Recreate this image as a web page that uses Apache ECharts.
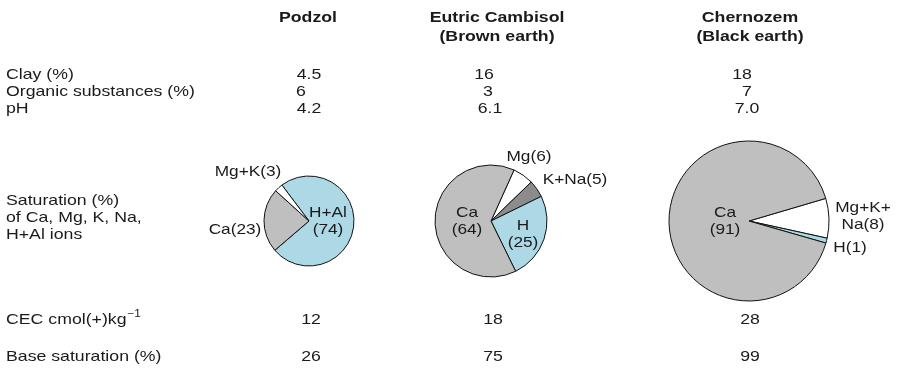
<!DOCTYPE html>
<html><head><meta charset="utf-8">
<script src="https://cdn.jsdelivr.net/npm/echarts@6/dist/echarts.min.js"></script>
<style>html,body{margin:0;padding:0;background:#fff}#c{width:898px;height:369px}</style>
</head><body><div id="c"></div>
<script>
// ---- data ----
var soils = ['Podzol', 'Eutric Cambisol\n(Brown earth)', 'Chernozem\n(Black earth)'];
var rowLabels = ['Clay (%)', 'Organic substances (%)', 'pH'];
var clay = ['4.5', '16', '18'];
var organic = ['6', '3', '7'];
var ph = ['4.2', '6.1', '7.0'];
var cec = ['12', '18', '28'];
var baseSat = ['26', '75', '99'];
var satLabel = 'Saturation (%)\nof Ca, Mg, K, Na,\nH+Al ions';
// saturation pies (clockwise order)
var podzolIons = ['H+Al', 'Ca', 'Mg+K'];
var podzolVals = [74, 23, 3];
var cambisolIons = ['Mg', 'K+Na', 'H', 'Ca'];
var cambisolVals = [6, 5, 25, 64];
var chernozemIons = ['Mg+K+Na', 'H', 'Ca'];
var chernozemVals = [8, 1, 91];

// ---- layout ----
var FONT = '"Liberation Sans", Arial, sans-serif';
var FS = 15, SX = 1.18;
var colorMap = {'H+Al': '#add8e6', 'H': '#add8e6', 'Ca': '#bfbfc0', 'Mg+K': '#ffffff', 'Mg': '#ffffff', 'K+Na': '#8c8c8c', 'Mg+K+Na': '#ffffff'};
var pies = [
  {ions: podzolIons, vals: podzolVals, center: [309, 221], r: 45, start: 127},
  {ions: cambisolIons, vals: cambisolVals, center: [491, 221], r: 56, start: 65.7},
  {ions: chernozemIons, vals: chernozemVals, center: [749, 221], r: 80, start: 16.4}
];
var chart = echarts.init(document.getElementById('c'), null, {renderer: 'canvas'});
var g = [];
function txt(x, y, s, opt) {
  opt = opt || {};
  g.push({type: 'text', x: x, y: y, z: 100, scaleX: opt.sx || SX, style: {text: s, font: (opt.bold ? 'bold ' : '') + (opt.size || FS) + 'px ' + FONT,
    fill: '#1a1a1a', textAlign: opt.align || 'center', textVerticalAlign: 'middle', lineHeight: opt.lh || 17}});
}
var headerX = [308, 497, 750];
soils.forEach(function (s, i) { txt(headerX[i], s.indexOf('\n') >= 0 ? 27.5 : 18, s, {bold: true, lh: 19}); });
var rowY = [75, 92, 109];
rowLabels.forEach(function (s, i) { txt(6, rowY[i], s, {align: 'left'}); });
var clayX = [309, 484, 742], orgX = [301, 488, 747], phX = [309, 490, 747];
clay.forEach(function (v, i) { txt(clayX[i], rowY[0], v); });
organic.forEach(function (v, i) { txt(orgX[i], rowY[1], v); });
ph.forEach(function (v, i) { txt(phX[i], rowY[2], v); });
txt(6, 218, satLabel, {align: 'left'});
// CEC with superscript
var ctx = document.createElement('canvas').getContext('2d');
ctx.font = FS + 'px ' + FONT;
var cecMain = 'CEC cmol(+)kg';
txt(6, 320, cecMain, {align: 'left'});
txt(6 + ctx.measureText(cecMain).width * SX + 1, 314, '\u22121', {align: 'left', size: 10});
txt(6, 357, 'Base saturation (%)', {align: 'left'});
var botX = [311, 493, 750];
cec.forEach(function (v, i) { txt(botX[i], 320, v); });
baseSat.forEach(function (v, i) { txt(botX[i], 357, v); });
// pie labels
var pieLabels = [
  [248, 172, 'Mg+K(' + podzolVals[2] + ')'], [235, 230, 'Ca(' + podzolVals[1] + ')'], [328, 221, 'H+Al\n(' + podzolVals[0] + ')'],
  [529, 157, 'Mg(' + cambisolVals[0] + ')'], [575, 180, 'K+Na(' + cambisolVals[1] + ')'], [467, 221, 'Ca\n(' + cambisolVals[3] + ')'], [523, 234, 'H\n(' + cambisolVals[2] + ')'],
  [725, 221, 'Ca\n(' + chernozemVals[2] + ')'], [863, 216, 'Mg+K+\nNa(' + chernozemVals[0] + ')'], [850, 248, 'H(' + chernozemVals[1] + ')']
];
pieLabels.forEach(function (p) { txt(p[0], p[1], p[2], {sx: 1.15}); });

var series = pies.map(function (p) {
  return {
    type: 'pie', center: p.center, radius: [0, p.r], startAngle: p.start, clockwise: true,
    silent: true, animation: false, label: {show: false}, labelLine: {show: false}, z: 1,
    itemStyle: {borderColor: '#111', borderWidth: 1},
    data: p.ions.map(function (n, i) { return {name: n, value: p.vals[i], itemStyle: {color: colorMap[n]}}; })
  };
});
chart.setOption({animation: false, series: series, graphic: {elements: g}});
</script></body></html>
